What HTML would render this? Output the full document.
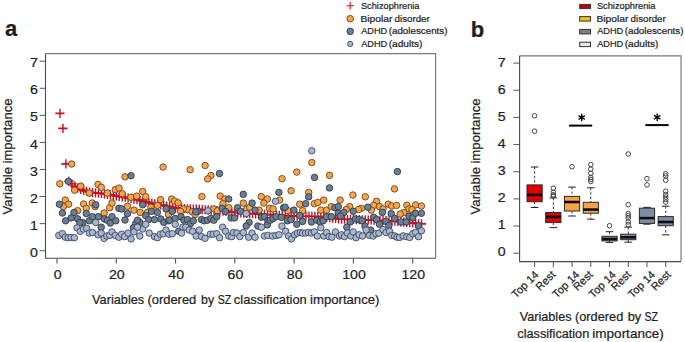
<!DOCTYPE html>
<html><head><meta charset="utf-8"><title>Variable importance figure</title>
<style>
html,body{margin:0;padding:0;background:#fff;}
svg{display:block;}
svg text{font-family:"Liberation Sans", sans-serif;fill:#1e1e1e;stroke:#1e1e1e;stroke-width:0.22px;}
</style></head>
<body>
<svg width="685" height="342" viewBox="0 0 685 342">
<defs><filter id="sf" x="-5%" y="-5%" width="110%" height="110%"><feGaussianBlur stdDeviation="0.35"/></filter></defs>
<rect width="685" height="342" fill="#fff"/>
<path d="M45.5 53.6H435.6V258.2" fill="none" stroke="#7a7a7a" stroke-width="1.15"/>
<path d="M435.6 258.2H45.5V53.6" fill="none" stroke="#4a4a4a" stroke-width="1.1"/>
<line x1="39.7" y1="250.7" x2="45.5" y2="250.7" stroke="#555" stroke-width="1"/>
<text x="37.9" y="256.8" font-size="13.2" text-anchor="end" textLength="7.9" lengthAdjust="spacingAndGlyphs">0</text>
<line x1="39.7" y1="223.63" x2="45.5" y2="223.63" stroke="#555" stroke-width="1"/>
<text x="37.9" y="229.73" font-size="13.2" text-anchor="end" textLength="7.9" lengthAdjust="spacingAndGlyphs">1</text>
<line x1="39.7" y1="196.56" x2="45.5" y2="196.56" stroke="#555" stroke-width="1"/>
<text x="37.9" y="202.66" font-size="13.2" text-anchor="end" textLength="7.9" lengthAdjust="spacingAndGlyphs">2</text>
<line x1="39.7" y1="169.49" x2="45.5" y2="169.49" stroke="#555" stroke-width="1"/>
<text x="37.9" y="175.59" font-size="13.2" text-anchor="end" textLength="7.9" lengthAdjust="spacingAndGlyphs">3</text>
<line x1="39.7" y1="142.42" x2="45.5" y2="142.42" stroke="#555" stroke-width="1"/>
<text x="37.9" y="148.52" font-size="13.2" text-anchor="end" textLength="7.9" lengthAdjust="spacingAndGlyphs">4</text>
<line x1="39.7" y1="115.35" x2="45.5" y2="115.35" stroke="#555" stroke-width="1"/>
<text x="37.9" y="121.45" font-size="13.2" text-anchor="end" textLength="7.9" lengthAdjust="spacingAndGlyphs">5</text>
<line x1="39.7" y1="88.28" x2="45.5" y2="88.28" stroke="#555" stroke-width="1"/>
<text x="37.9" y="94.38" font-size="13.2" text-anchor="end" textLength="7.9" lengthAdjust="spacingAndGlyphs">6</text>
<line x1="39.7" y1="61.21" x2="45.5" y2="61.21" stroke="#555" stroke-width="1"/>
<text x="37.9" y="67.31" font-size="13.2" text-anchor="end" textLength="7.9" lengthAdjust="spacingAndGlyphs">7</text>
<line x1="57" y1="258.2" x2="57" y2="263.6" stroke="#555" stroke-width="1.1"/>
<text x="57.6" y="279.4" font-size="13.2" text-anchor="middle" textLength="7.85" lengthAdjust="spacingAndGlyphs">0</text>
<line x1="116.28" y1="258.2" x2="116.28" y2="263.6" stroke="#555" stroke-width="1.1"/>
<text x="116.88" y="279.4" font-size="13.2" text-anchor="middle" textLength="15.7" lengthAdjust="spacingAndGlyphs">20</text>
<line x1="175.56" y1="258.2" x2="175.56" y2="263.6" stroke="#555" stroke-width="1.1"/>
<text x="176.16" y="279.4" font-size="13.2" text-anchor="middle" textLength="15.7" lengthAdjust="spacingAndGlyphs">40</text>
<line x1="234.84" y1="258.2" x2="234.84" y2="263.6" stroke="#555" stroke-width="1.1"/>
<text x="235.44" y="279.4" font-size="13.2" text-anchor="middle" textLength="15.7" lengthAdjust="spacingAndGlyphs">60</text>
<line x1="294.12" y1="258.2" x2="294.12" y2="263.6" stroke="#555" stroke-width="1.1"/>
<text x="294.72" y="279.4" font-size="13.2" text-anchor="middle" textLength="15.7" lengthAdjust="spacingAndGlyphs">80</text>
<line x1="353.4" y1="258.2" x2="353.4" y2="263.6" stroke="#555" stroke-width="1.1"/>
<text x="354" y="279.4" font-size="13.2" text-anchor="middle" textLength="23.55" lengthAdjust="spacingAndGlyphs">100</text>
<line x1="412.68" y1="258.2" x2="412.68" y2="263.6" stroke="#555" stroke-width="1.1"/>
<text x="413.28" y="279.4" font-size="13.2" text-anchor="middle" textLength="23.55" lengthAdjust="spacingAndGlyphs">120</text>
<g filter="url(#sf)">
<path d="M59.96 108.7v9.2M62.93 123.8v9.2M65.89 159.2v9.2M68.86 176.8v9.2M71.82 179.28v9.2M74.78 181.48v9.2M77.75 183.38v9.2M80.71 184.91v9.2M83.68 185.92v9.2M86.64 186.8v9.2M89.6 187.62v9.2M92.57 188.1v9.2M95.53 188.3v9.2M98.5 188.5v9.2M101.46 188.83v9.2M104.42 189.31v9.2M107.39 189.78v9.2M110.35 190.26v9.2M113.32 190.73v9.2M116.28 191.2v9.2M119.24 191.72v9.2M122.21 192.28v9.2M125.17 192.83v9.2M128.14 193.38v9.2M131.1 193.93v9.2M134.06 194.48v9.2M137.03 195.03v9.2M139.99 195.66v9.2M142.96 196.45v9.2M145.92 197.25v9.2M148.88 198.04v9.2M151.85 198.75v9.2M154.81 199.27v9.2M157.78 199.8v9.2M160.74 200.32v9.2M163.7 200.85v9.2M166.67 201.45v9.2M169.63 202.07v9.2M172.6 202.69v9.2M175.56 203.3v9.2M178.52 203.68v9.2M181.49 203.84v9.2M184.45 203.99v9.2M187.42 204.15v9.2M190.38 204.3v9.2M193.34 204.46v9.2M196.31 204.62v9.2M199.27 204.79v9.2M202.24 204.96v9.2M205.2 205.13v9.2M208.16 205.3v9.2M211.13 205.48v9.2M214.09 205.65v9.2M217.06 205.93v9.2M220.02 206.26v9.2M222.98 206.59v9.2M225.95 206.92v9.2M228.91 207.25v9.2M231.88 207.59v9.2M234.84 207.82v9.2M237.8 208.05v9.2M240.77 208.28v9.2M243.73 208.51v9.2M246.7 208.74v9.2M249.66 208.97v9.2M252.62 209.15v9.2M255.59 209.32v9.2M258.55 209.48v9.2M261.52 209.65v9.2M264.48 209.82v9.2M267.44 209.98v9.2M270.41 210.15v9.2M273.37 210.32v9.2M276.34 210.49v9.2M279.3 210.65v9.2M282.26 210.82v9.2M285.23 210.99v9.2M288.19 211.15v9.2M291.16 211.25v9.2M294.12 211.33v9.2M297.08 211.4v9.2M300.05 211.48v9.2M303.01 211.55v9.2M305.98 211.62v9.2M308.94 211.7v9.2M311.9 211.77v9.2M314.87 211.85v9.2M317.83 211.92v9.2M320.8 211.99v9.2M323.76 212.35v9.2M326.72 212.72v9.2M329.69 213.1v9.2M332.65 213.47v9.2M335.62 213.85v9.2M338.58 214.22v9.2M341.54 214.46v9.2M344.51 214.56v9.2M347.47 214.67v9.2M350.44 214.78v9.2M353.4 214.88v9.2M356.36 214.99v9.2M359.33 215.1v9.2M362.29 215.2v9.2M365.26 215.31v9.2M368.22 215.41v9.2M371.18 215.51v9.2M374.15 215.62v9.2M377.11 215.72v9.2M380.08 215.82v9.2M383.04 215.92v9.2M386 216.03v9.2M388.97 216.13v9.2M391.93 216.3v9.2M394.9 216.6v9.2M397.86 216.9v9.2M400.82 217.2v9.2M403.79 217.5v9.2M406.75 217.81v9.2M409.72 218.11v9.2M412.68 218.41v9.2M415.64 218.71v9.2M418.61 219.02v9.2M421.57 219.3v9.2" stroke="#ac1830" stroke-width="1.4" fill="none"/>
<path d="M55.36 113.3h9.2M58.33 128.4h9.2M61.29 163.8h9.2M64.26 181.4h9.2M67.22 183.88h9.2M70.18 186.08h9.2M73.15 187.98h9.2M76.11 189.51h9.2M79.08 190.52h9.2M82.04 191.4h9.2M85 192.22h9.2M87.97 192.7h9.2M90.93 192.9h9.2M93.9 193.1h9.2M96.86 193.43h9.2M99.82 193.91h9.2M102.79 194.38h9.2M105.75 194.86h9.2M108.72 195.33h9.2M111.68 195.8h9.2M114.64 196.32h9.2M117.61 196.88h9.2M120.57 197.43h9.2M123.54 197.98h9.2M126.5 198.53h9.2M129.46 199.08h9.2M132.43 199.63h9.2M135.39 200.26h9.2M138.36 201.05h9.2M141.32 201.85h9.2M144.28 202.64h9.2M147.25 203.35h9.2M150.21 203.87h9.2M153.18 204.4h9.2M156.14 204.92h9.2M159.1 205.45h9.2M162.07 206.05h9.2M165.03 206.67h9.2M168 207.29h9.2M170.96 207.9h9.2M173.92 208.28h9.2M176.89 208.44h9.2M179.85 208.59h9.2M182.82 208.75h9.2M185.78 208.9h9.2M188.74 209.06h9.2M191.71 209.22h9.2M194.67 209.39h9.2M197.64 209.56h9.2M200.6 209.73h9.2M203.56 209.9h9.2M206.53 210.08h9.2M209.49 210.25h9.2M212.46 210.53h9.2M215.42 210.86h9.2M218.38 211.19h9.2M221.35 211.52h9.2M224.31 211.85h9.2M227.28 212.19h9.2M230.24 212.42h9.2M233.2 212.65h9.2M236.17 212.88h9.2M239.13 213.11h9.2M242.1 213.34h9.2M245.06 213.57h9.2M248.02 213.75h9.2M250.99 213.92h9.2M253.95 214.08h9.2M256.92 214.25h9.2M259.88 214.42h9.2M262.84 214.58h9.2M265.81 214.75h9.2M268.77 214.92h9.2M271.74 215.09h9.2M274.7 215.25h9.2M277.66 215.42h9.2M280.63 215.59h9.2M283.59 215.75h9.2M286.56 215.85h9.2M289.52 215.93h9.2M292.48 216h9.2M295.45 216.08h9.2M298.41 216.15h9.2M301.38 216.22h9.2M304.34 216.3h9.2M307.3 216.37h9.2M310.27 216.45h9.2M313.23 216.52h9.2M316.2 216.59h9.2M319.16 216.95h9.2M322.12 217.32h9.2M325.09 217.7h9.2M328.05 218.07h9.2M331.02 218.45h9.2M333.98 218.82h9.2M336.94 219.06h9.2M339.91 219.16h9.2M342.87 219.27h9.2M345.84 219.38h9.2M348.8 219.48h9.2M351.76 219.59h9.2M354.73 219.7h9.2M357.69 219.8h9.2M360.66 219.91h9.2M363.62 220.01h9.2M366.58 220.11h9.2M369.55 220.22h9.2M372.51 220.32h9.2M375.48 220.42h9.2M378.44 220.52h9.2M381.4 220.63h9.2M384.37 220.73h9.2M387.33 220.9h9.2M390.3 221.2h9.2M393.26 221.5h9.2M396.22 221.8h9.2M399.19 222.1h9.2M402.15 222.41h9.2M405.12 222.71h9.2M408.08 223.01h9.2M411.04 223.31h9.2M414.01 223.62h9.2M416.97 223.9h9.2" stroke="#d4101e" stroke-width="1.8" fill="none"/>
<circle cx="59.8" cy="183.8" r="3.25" fill="#f7a44f" stroke="#6e4518" stroke-width="0.9"/><circle cx="74.6" cy="190.2" r="3.25" fill="#f7a44f" stroke="#6e4518" stroke-width="0.9"/><circle cx="80.7" cy="186.1" r="3.25" fill="#f7a44f" stroke="#6e4518" stroke-width="0.9"/><circle cx="98" cy="184.4" r="3.25" fill="#f7a44f" stroke="#6e4518" stroke-width="0.9"/><circle cx="101.3" cy="187.3" r="3.25" fill="#f7a44f" stroke="#6e4518" stroke-width="0.9"/><circle cx="89.3" cy="193.1" r="3.25" fill="#f7a44f" stroke="#6e4518" stroke-width="0.9"/><circle cx="107.4" cy="193.1" r="3.25" fill="#f7a44f" stroke="#6e4518" stroke-width="0.9"/><circle cx="65.3" cy="200.1" r="3.25" fill="#f7a44f" stroke="#6e4518" stroke-width="0.9"/><circle cx="68.6" cy="204.2" r="3.25" fill="#f7a44f" stroke="#6e4518" stroke-width="0.9"/><circle cx="63.3" cy="206.6" r="3.25" fill="#f7a44f" stroke="#6e4518" stroke-width="0.9"/><circle cx="83.6" cy="204" r="3.25" fill="#f7a44f" stroke="#6e4518" stroke-width="0.9"/><circle cx="86.3" cy="208.3" r="3.25" fill="#f7a44f" stroke="#6e4518" stroke-width="0.9"/><circle cx="92.2" cy="203" r="3.25" fill="#f7a44f" stroke="#6e4518" stroke-width="0.9"/><circle cx="95.1" cy="206.6" r="3.25" fill="#f7a44f" stroke="#6e4518" stroke-width="0.9"/><circle cx="109.7" cy="207.7" r="3.25" fill="#f7a44f" stroke="#6e4518" stroke-width="0.9"/><circle cx="112" cy="203" r="3.25" fill="#f7a44f" stroke="#6e4518" stroke-width="0.9"/><circle cx="77.6" cy="210.7" r="3.25" fill="#f7a44f" stroke="#6e4518" stroke-width="0.9"/><circle cx="104.2" cy="213" r="3.25" fill="#f7a44f" stroke="#6e4518" stroke-width="0.9"/><circle cx="71.6" cy="164" r="3.25" fill="#f7a44f" stroke="#6e4518" stroke-width="0.9"/><circle cx="163.1" cy="167.1" r="3.25" fill="#f7a44f" stroke="#6e4518" stroke-width="0.9"/><circle cx="190.1" cy="169.7" r="3.25" fill="#f7a44f" stroke="#6e4518" stroke-width="0.9"/><circle cx="205.1" cy="165.5" r="3.25" fill="#f7a44f" stroke="#6e4518" stroke-width="0.9"/><circle cx="210.9" cy="175.5" r="3.25" fill="#f7a44f" stroke="#6e4518" stroke-width="0.9"/><circle cx="207.7" cy="178.9" r="3.25" fill="#f7a44f" stroke="#6e4518" stroke-width="0.9"/><circle cx="125" cy="176.8" r="3.25" fill="#f7a44f" stroke="#6e4518" stroke-width="0.9"/><circle cx="311.8" cy="162.6" r="3.25" fill="#f7a44f" stroke="#6e4518" stroke-width="0.9"/><circle cx="296.8" cy="172.1" r="3.25" fill="#f7a44f" stroke="#6e4518" stroke-width="0.9"/><circle cx="282.1" cy="178.7" r="3.25" fill="#f7a44f" stroke="#6e4518" stroke-width="0.9"/><circle cx="329.5" cy="175.3" r="3.25" fill="#f7a44f" stroke="#6e4518" stroke-width="0.9"/><circle cx="394.5" cy="188.9" r="3.25" fill="#f7a44f" stroke="#6e4518" stroke-width="0.9"/><circle cx="291.1" cy="190.8" r="3.25" fill="#f7a44f" stroke="#6e4518" stroke-width="0.9"/><circle cx="308.7" cy="192.4" r="3.25" fill="#f7a44f" stroke="#6e4518" stroke-width="0.9"/><circle cx="352.9" cy="195" r="3.25" fill="#f7a44f" stroke="#6e4518" stroke-width="0.9"/><circle cx="365.3" cy="196.8" r="3.25" fill="#f7a44f" stroke="#6e4518" stroke-width="0.9"/><circle cx="115.3" cy="189.6" r="3.25" fill="#f7a44f" stroke="#6e4518" stroke-width="0.9"/><circle cx="119.1" cy="188.1" r="3.25" fill="#f7a44f" stroke="#6e4518" stroke-width="0.9"/><circle cx="122.3" cy="193.7" r="3.25" fill="#f7a44f" stroke="#6e4518" stroke-width="0.9"/><circle cx="130.8" cy="197.2" r="3.25" fill="#f7a44f" stroke="#6e4518" stroke-width="0.9"/><circle cx="136.7" cy="196.1" r="3.25" fill="#f7a44f" stroke="#6e4518" stroke-width="0.9"/><circle cx="142.7" cy="191.4" r="3.25" fill="#f7a44f" stroke="#6e4518" stroke-width="0.9"/><circle cx="145.7" cy="196.6" r="3.25" fill="#f7a44f" stroke="#6e4518" stroke-width="0.9"/><circle cx="127.5" cy="206.3" r="3.25" fill="#f7a44f" stroke="#6e4518" stroke-width="0.9"/><circle cx="134" cy="210.1" r="3.25" fill="#f7a44f" stroke="#6e4518" stroke-width="0.9"/><circle cx="140.2" cy="212.4" r="3.25" fill="#f7a44f" stroke="#6e4518" stroke-width="0.9"/><circle cx="160.5" cy="199.6" r="3.25" fill="#f7a44f" stroke="#6e4518" stroke-width="0.9"/><circle cx="157.4" cy="205.4" r="3.25" fill="#f7a44f" stroke="#6e4518" stroke-width="0.9"/><circle cx="150.9" cy="207.2" r="3.25" fill="#f7a44f" stroke="#6e4518" stroke-width="0.9"/><circle cx="147.4" cy="212.4" r="3.25" fill="#f7a44f" stroke="#6e4518" stroke-width="0.9"/><circle cx="168.5" cy="214.4" r="3.25" fill="#f7a44f" stroke="#6e4518" stroke-width="0.9"/><circle cx="171.7" cy="199" r="3.25" fill="#f7a44f" stroke="#6e4518" stroke-width="0.9"/><circle cx="174.6" cy="201" r="3.25" fill="#f7a44f" stroke="#6e4518" stroke-width="0.9"/><circle cx="178.1" cy="202.8" r="3.25" fill="#f7a44f" stroke="#6e4518" stroke-width="0.9"/><circle cx="201.9" cy="196.6" r="3.25" fill="#f7a44f" stroke="#6e4518" stroke-width="0.9"/><circle cx="220.2" cy="196.1" r="3.25" fill="#f7a44f" stroke="#6e4518" stroke-width="0.9"/><circle cx="224.9" cy="199" r="3.25" fill="#f7a44f" stroke="#6e4518" stroke-width="0.9"/><circle cx="222.9" cy="203.7" r="3.25" fill="#f7a44f" stroke="#6e4518" stroke-width="0.9"/><circle cx="187.5" cy="209.5" r="3.25" fill="#f7a44f" stroke="#6e4518" stroke-width="0.9"/><circle cx="183.4" cy="208.9" r="3.25" fill="#f7a44f" stroke="#6e4518" stroke-width="0.9"/><circle cx="180.5" cy="211.3" r="3.25" fill="#f7a44f" stroke="#6e4518" stroke-width="0.9"/><circle cx="192.1" cy="211.8" r="3.25" fill="#f7a44f" stroke="#6e4518" stroke-width="0.9"/><circle cx="213.8" cy="208.9" r="3.25" fill="#f7a44f" stroke="#6e4518" stroke-width="0.9"/><circle cx="217.3" cy="210.7" r="3.25" fill="#f7a44f" stroke="#6e4518" stroke-width="0.9"/><circle cx="195.1" cy="214.4" r="3.25" fill="#f7a44f" stroke="#6e4518" stroke-width="0.9"/><circle cx="243.3" cy="203.1" r="3.25" fill="#f7a44f" stroke="#6e4518" stroke-width="0.9"/><circle cx="261.2" cy="196.6" r="3.25" fill="#f7a44f" stroke="#6e4518" stroke-width="0.9"/><circle cx="267.3" cy="199" r="3.25" fill="#f7a44f" stroke="#6e4518" stroke-width="0.9"/><circle cx="263.8" cy="203.1" r="3.25" fill="#f7a44f" stroke="#6e4518" stroke-width="0.9"/><circle cx="279.6" cy="200.1" r="3.25" fill="#f7a44f" stroke="#6e4518" stroke-width="0.9"/><circle cx="228.7" cy="207.7" r="3.25" fill="#f7a44f" stroke="#6e4518" stroke-width="0.9"/><circle cx="246.8" cy="208.9" r="3.25" fill="#f7a44f" stroke="#6e4518" stroke-width="0.9"/><circle cx="249.7" cy="207.2" r="3.25" fill="#f7a44f" stroke="#6e4518" stroke-width="0.9"/><circle cx="259.1" cy="210.1" r="3.25" fill="#f7a44f" stroke="#6e4518" stroke-width="0.9"/><circle cx="269.6" cy="208.3" r="3.25" fill="#f7a44f" stroke="#6e4518" stroke-width="0.9"/><circle cx="273.1" cy="208.9" r="3.25" fill="#f7a44f" stroke="#6e4518" stroke-width="0.9"/><circle cx="299.7" cy="204.2" r="3.25" fill="#f7a44f" stroke="#6e4518" stroke-width="0.9"/><circle cx="314.3" cy="203.7" r="3.25" fill="#f7a44f" stroke="#6e4518" stroke-width="0.9"/><circle cx="317.8" cy="202.5" r="3.25" fill="#f7a44f" stroke="#6e4518" stroke-width="0.9"/><circle cx="323.7" cy="200.1" r="3.25" fill="#f7a44f" stroke="#6e4518" stroke-width="0.9"/><circle cx="340.1" cy="200.1" r="3.25" fill="#f7a44f" stroke="#6e4518" stroke-width="0.9"/><circle cx="288" cy="210.7" r="3.25" fill="#f7a44f" stroke="#6e4518" stroke-width="0.9"/><circle cx="302.6" cy="210.7" r="3.25" fill="#f7a44f" stroke="#6e4518" stroke-width="0.9"/><circle cx="320.8" cy="210.1" r="3.25" fill="#f7a44f" stroke="#6e4518" stroke-width="0.9"/><circle cx="326.6" cy="210.1" r="3.25" fill="#f7a44f" stroke="#6e4518" stroke-width="0.9"/><circle cx="331.3" cy="206.6" r="3.25" fill="#f7a44f" stroke="#6e4518" stroke-width="0.9"/><circle cx="376.6" cy="201.3" r="3.25" fill="#f7a44f" stroke="#6e4518" stroke-width="0.9"/><circle cx="349.7" cy="206.6" r="3.25" fill="#f7a44f" stroke="#6e4518" stroke-width="0.9"/><circle cx="346.2" cy="209.5" r="3.25" fill="#f7a44f" stroke="#6e4518" stroke-width="0.9"/><circle cx="361.4" cy="208.3" r="3.25" fill="#f7a44f" stroke="#6e4518" stroke-width="0.9"/><circle cx="358.5" cy="209.5" r="3.25" fill="#f7a44f" stroke="#6e4518" stroke-width="0.9"/><circle cx="373.7" cy="205.4" r="3.25" fill="#f7a44f" stroke="#6e4518" stroke-width="0.9"/><circle cx="379.5" cy="206.6" r="3.25" fill="#f7a44f" stroke="#6e4518" stroke-width="0.9"/><circle cx="383" cy="208.9" r="3.25" fill="#f7a44f" stroke="#6e4518" stroke-width="0.9"/><circle cx="388.3" cy="204.2" r="3.25" fill="#f7a44f" stroke="#6e4518" stroke-width="0.9"/><circle cx="391.8" cy="206" r="3.25" fill="#f7a44f" stroke="#6e4518" stroke-width="0.9"/><circle cx="396.5" cy="205.4" r="3.25" fill="#f7a44f" stroke="#6e4518" stroke-width="0.9"/><circle cx="371.3" cy="210.1" r="3.25" fill="#f7a44f" stroke="#6e4518" stroke-width="0.9"/><circle cx="406.8" cy="205.2" r="3.25" fill="#f7a44f" stroke="#6e4518" stroke-width="0.9"/><circle cx="415.6" cy="204.9" r="3.25" fill="#f7a44f" stroke="#6e4518" stroke-width="0.9"/><circle cx="421.4" cy="206" r="3.25" fill="#f7a44f" stroke="#6e4518" stroke-width="0.9"/><circle cx="409" cy="208.9" r="3.25" fill="#f7a44f" stroke="#6e4518" stroke-width="0.9"/><circle cx="411.9" cy="209.6" r="3.25" fill="#f7a44f" stroke="#6e4518" stroke-width="0.9"/><circle cx="403.9" cy="212.5" r="3.25" fill="#f7a44f" stroke="#6e4518" stroke-width="0.9"/><circle cx="400.2" cy="214" r="3.25" fill="#f7a44f" stroke="#6e4518" stroke-width="0.9"/><circle cx="68.4" cy="181.3" r="3.25" fill="#6d7d94" stroke="#313a46" stroke-width="0.9"/><circle cx="59.4" cy="204.2" r="3.25" fill="#6d7d94" stroke="#313a46" stroke-width="0.9"/><circle cx="95.7" cy="204.8" r="3.25" fill="#6d7d94" stroke="#313a46" stroke-width="0.9"/><circle cx="62.4" cy="213" r="3.25" fill="#6d7d94" stroke="#313a46" stroke-width="0.9"/><circle cx="74" cy="212.4" r="3.25" fill="#6d7d94" stroke="#313a46" stroke-width="0.9"/><circle cx="86.3" cy="213.6" r="3.25" fill="#6d7d94" stroke="#313a46" stroke-width="0.9"/><circle cx="65.6" cy="220.8" r="3.25" fill="#6d7d94" stroke="#313a46" stroke-width="0.9"/><circle cx="71.1" cy="217.9" r="3.25" fill="#6d7d94" stroke="#313a46" stroke-width="0.9"/><circle cx="77.6" cy="218.8" r="3.25" fill="#6d7d94" stroke="#313a46" stroke-width="0.9"/><circle cx="82.8" cy="222.5" r="3.25" fill="#6d7d94" stroke="#313a46" stroke-width="0.9"/><circle cx="89.3" cy="220.8" r="3.25" fill="#6d7d94" stroke="#313a46" stroke-width="0.9"/><circle cx="92.5" cy="216.7" r="3.25" fill="#6d7d94" stroke="#313a46" stroke-width="0.9"/><circle cx="98.4" cy="216.7" r="3.25" fill="#6d7d94" stroke="#313a46" stroke-width="0.9"/><circle cx="101.2" cy="227.2" r="3.25" fill="#6d7d94" stroke="#313a46" stroke-width="0.9"/><circle cx="104.5" cy="219" r="3.25" fill="#6d7d94" stroke="#313a46" stroke-width="0.9"/><circle cx="107.4" cy="220.2" r="3.25" fill="#6d7d94" stroke="#313a46" stroke-width="0.9"/><circle cx="110.3" cy="223.1" r="3.25" fill="#6d7d94" stroke="#313a46" stroke-width="0.9"/><circle cx="112" cy="216.7" r="3.25" fill="#6d7d94" stroke="#313a46" stroke-width="0.9"/><circle cx="79.9" cy="222.5" r="3.25" fill="#6d7d94" stroke="#313a46" stroke-width="0.9"/><circle cx="131" cy="175.7" r="3.25" fill="#6d7d94" stroke="#313a46" stroke-width="0.9"/><circle cx="219.5" cy="173.6" r="3.25" fill="#6d7d94" stroke="#313a46" stroke-width="0.9"/><circle cx="314.5" cy="177.4" r="3.25" fill="#6d7d94" stroke="#313a46" stroke-width="0.9"/><circle cx="329.5" cy="187.9" r="3.25" fill="#6d7d94" stroke="#313a46" stroke-width="0.9"/><circle cx="397.4" cy="171.6" r="3.25" fill="#6d7d94" stroke="#313a46" stroke-width="0.9"/><circle cx="278.9" cy="192.4" r="3.25" fill="#6d7d94" stroke="#313a46" stroke-width="0.9"/><circle cx="308.7" cy="196.8" r="3.25" fill="#6d7d94" stroke="#313a46" stroke-width="0.9"/><circle cx="118.8" cy="208.3" r="3.25" fill="#6d7d94" stroke="#313a46" stroke-width="0.9"/><circle cx="121.7" cy="208.9" r="3.25" fill="#6d7d94" stroke="#313a46" stroke-width="0.9"/><circle cx="142.7" cy="204.8" r="3.25" fill="#6d7d94" stroke="#313a46" stroke-width="0.9"/><circle cx="166.1" cy="208.9" r="3.25" fill="#6d7d94" stroke="#313a46" stroke-width="0.9"/><circle cx="151.5" cy="211.3" r="3.25" fill="#6d7d94" stroke="#313a46" stroke-width="0.9"/><circle cx="157.4" cy="212.4" r="3.25" fill="#6d7d94" stroke="#313a46" stroke-width="0.9"/><circle cx="127.5" cy="213.6" r="3.25" fill="#6d7d94" stroke="#313a46" stroke-width="0.9"/><circle cx="115.8" cy="220.8" r="3.25" fill="#6d7d94" stroke="#313a46" stroke-width="0.9"/><circle cx="125" cy="220" r="3.25" fill="#6d7d94" stroke="#313a46" stroke-width="0.9"/><circle cx="135.7" cy="223.7" r="3.25" fill="#6d7d94" stroke="#313a46" stroke-width="0.9"/><circle cx="139.8" cy="222.5" r="3.25" fill="#6d7d94" stroke="#313a46" stroke-width="0.9"/><circle cx="133.4" cy="227.8" r="3.25" fill="#6d7d94" stroke="#313a46" stroke-width="0.9"/><circle cx="145.7" cy="215.5" r="3.25" fill="#6d7d94" stroke="#313a46" stroke-width="0.9"/><circle cx="148.6" cy="219.6" r="3.25" fill="#6d7d94" stroke="#313a46" stroke-width="0.9"/><circle cx="154.4" cy="219.6" r="3.25" fill="#6d7d94" stroke="#313a46" stroke-width="0.9"/><circle cx="160.9" cy="219" r="3.25" fill="#6d7d94" stroke="#313a46" stroke-width="0.9"/><circle cx="163.8" cy="222.5" r="3.25" fill="#6d7d94" stroke="#313a46" stroke-width="0.9"/><circle cx="168.5" cy="220.8" r="3.25" fill="#6d7d94" stroke="#313a46" stroke-width="0.9"/><circle cx="137.5" cy="220.2" r="3.25" fill="#6d7d94" stroke="#313a46" stroke-width="0.9"/><circle cx="172.3" cy="211.3" r="3.25" fill="#6d7d94" stroke="#313a46" stroke-width="0.9"/><circle cx="198" cy="211.3" r="3.25" fill="#6d7d94" stroke="#313a46" stroke-width="0.9"/><circle cx="222" cy="208.3" r="3.25" fill="#6d7d94" stroke="#313a46" stroke-width="0.9"/><circle cx="195.7" cy="211.8" r="3.25" fill="#6d7d94" stroke="#313a46" stroke-width="0.9"/><circle cx="169.3" cy="220.2" r="3.25" fill="#6d7d94" stroke="#313a46" stroke-width="0.9"/><circle cx="175.2" cy="218.5" r="3.25" fill="#6d7d94" stroke="#313a46" stroke-width="0.9"/><circle cx="181" cy="216.7" r="3.25" fill="#6d7d94" stroke="#313a46" stroke-width="0.9"/><circle cx="184" cy="220.2" r="3.25" fill="#6d7d94" stroke="#313a46" stroke-width="0.9"/><circle cx="187.5" cy="219.6" r="3.25" fill="#6d7d94" stroke="#313a46" stroke-width="0.9"/><circle cx="190.4" cy="223.7" r="3.25" fill="#6d7d94" stroke="#313a46" stroke-width="0.9"/><circle cx="193.3" cy="220.8" r="3.25" fill="#6d7d94" stroke="#313a46" stroke-width="0.9"/><circle cx="201.5" cy="219.6" r="3.25" fill="#6d7d94" stroke="#313a46" stroke-width="0.9"/><circle cx="204.4" cy="220.8" r="3.25" fill="#6d7d94" stroke="#313a46" stroke-width="0.9"/><circle cx="207.4" cy="220.2" r="3.25" fill="#6d7d94" stroke="#313a46" stroke-width="0.9"/><circle cx="210.9" cy="218.5" r="3.25" fill="#6d7d94" stroke="#313a46" stroke-width="0.9"/><circle cx="213.8" cy="220.2" r="3.25" fill="#6d7d94" stroke="#313a46" stroke-width="0.9"/><circle cx="216.7" cy="216.7" r="3.25" fill="#6d7d94" stroke="#313a46" stroke-width="0.9"/><circle cx="225.5" cy="211.4" r="3.25" fill="#6d7d94" stroke="#313a46" stroke-width="0.9"/><circle cx="178.7" cy="231.3" r="3.25" fill="#6d7d94" stroke="#313a46" stroke-width="0.9"/><circle cx="228.7" cy="199" r="3.25" fill="#6d7d94" stroke="#313a46" stroke-width="0.9"/><circle cx="243.3" cy="194.3" r="3.25" fill="#6d7d94" stroke="#313a46" stroke-width="0.9"/><circle cx="252.1" cy="203.1" r="3.25" fill="#6d7d94" stroke="#313a46" stroke-width="0.9"/><circle cx="237.5" cy="207.7" r="3.25" fill="#6d7d94" stroke="#313a46" stroke-width="0.9"/><circle cx="240.4" cy="211.3" r="3.25" fill="#6d7d94" stroke="#313a46" stroke-width="0.9"/><circle cx="255" cy="210.1" r="3.25" fill="#6d7d94" stroke="#313a46" stroke-width="0.9"/><circle cx="283.6" cy="207.7" r="3.25" fill="#6d7d94" stroke="#313a46" stroke-width="0.9"/><circle cx="231" cy="217.9" r="3.25" fill="#6d7d94" stroke="#313a46" stroke-width="0.9"/><circle cx="234.5" cy="217.9" r="3.25" fill="#6d7d94" stroke="#313a46" stroke-width="0.9"/><circle cx="249.1" cy="222.5" r="3.25" fill="#6d7d94" stroke="#313a46" stroke-width="0.9"/><circle cx="246.2" cy="226.1" r="3.25" fill="#6d7d94" stroke="#313a46" stroke-width="0.9"/><circle cx="257.9" cy="226.1" r="3.25" fill="#6d7d94" stroke="#313a46" stroke-width="0.9"/><circle cx="261.4" cy="217.3" r="3.25" fill="#6d7d94" stroke="#313a46" stroke-width="0.9"/><circle cx="264.4" cy="216.7" r="3.25" fill="#6d7d94" stroke="#313a46" stroke-width="0.9"/><circle cx="267.9" cy="220.8" r="3.25" fill="#6d7d94" stroke="#313a46" stroke-width="0.9"/><circle cx="267.3" cy="224.9" r="3.25" fill="#6d7d94" stroke="#313a46" stroke-width="0.9"/><circle cx="270.2" cy="220.2" r="3.25" fill="#6d7d94" stroke="#313a46" stroke-width="0.9"/><circle cx="273.1" cy="218.5" r="3.25" fill="#6d7d94" stroke="#313a46" stroke-width="0.9"/><circle cx="276" cy="216.7" r="3.25" fill="#6d7d94" stroke="#313a46" stroke-width="0.9"/><circle cx="281.3" cy="217.3" r="3.25" fill="#6d7d94" stroke="#313a46" stroke-width="0.9"/><circle cx="285.1" cy="207.2" r="3.25" fill="#6d7d94" stroke="#313a46" stroke-width="0.9"/><circle cx="305.6" cy="203.7" r="3.25" fill="#6d7d94" stroke="#313a46" stroke-width="0.9"/><circle cx="293.9" cy="210.1" r="3.25" fill="#6d7d94" stroke="#313a46" stroke-width="0.9"/><circle cx="334.8" cy="207.7" r="3.25" fill="#6d7d94" stroke="#313a46" stroke-width="0.9"/><circle cx="338.3" cy="206.6" r="3.25" fill="#6d7d94" stroke="#313a46" stroke-width="0.9"/><circle cx="287.4" cy="220.8" r="3.25" fill="#6d7d94" stroke="#313a46" stroke-width="0.9"/><circle cx="290.9" cy="219.6" r="3.25" fill="#6d7d94" stroke="#313a46" stroke-width="0.9"/><circle cx="296.8" cy="224.3" r="3.25" fill="#6d7d94" stroke="#313a46" stroke-width="0.9"/><circle cx="299.7" cy="215.5" r="3.25" fill="#6d7d94" stroke="#313a46" stroke-width="0.9"/><circle cx="302.6" cy="221.4" r="3.25" fill="#6d7d94" stroke="#313a46" stroke-width="0.9"/><circle cx="311.4" cy="222" r="3.25" fill="#6d7d94" stroke="#313a46" stroke-width="0.9"/><circle cx="316.7" cy="220.2" r="3.25" fill="#6d7d94" stroke="#313a46" stroke-width="0.9"/><circle cx="320.2" cy="222" r="3.25" fill="#6d7d94" stroke="#313a46" stroke-width="0.9"/><circle cx="323.1" cy="220.8" r="3.25" fill="#6d7d94" stroke="#313a46" stroke-width="0.9"/><circle cx="326.6" cy="216.7" r="3.25" fill="#6d7d94" stroke="#313a46" stroke-width="0.9"/><circle cx="331.3" cy="216.7" r="3.25" fill="#6d7d94" stroke="#313a46" stroke-width="0.9"/><circle cx="338.3" cy="213.2" r="3.25" fill="#6d7d94" stroke="#313a46" stroke-width="0.9"/><circle cx="367.8" cy="207.2" r="3.25" fill="#6d7d94" stroke="#313a46" stroke-width="0.9"/><circle cx="353.2" cy="211.3" r="3.25" fill="#6d7d94" stroke="#313a46" stroke-width="0.9"/><circle cx="343.8" cy="212.4" r="3.25" fill="#6d7d94" stroke="#313a46" stroke-width="0.9"/><circle cx="382.4" cy="212.4" r="3.25" fill="#6d7d94" stroke="#313a46" stroke-width="0.9"/><circle cx="391.2" cy="213.6" r="3.25" fill="#6d7d94" stroke="#313a46" stroke-width="0.9"/><circle cx="350.3" cy="222" r="3.25" fill="#6d7d94" stroke="#313a46" stroke-width="0.9"/><circle cx="346.8" cy="227.2" r="3.25" fill="#6d7d94" stroke="#313a46" stroke-width="0.9"/><circle cx="355.5" cy="219" r="3.25" fill="#6d7d94" stroke="#313a46" stroke-width="0.9"/><circle cx="359.1" cy="219.6" r="3.25" fill="#6d7d94" stroke="#313a46" stroke-width="0.9"/><circle cx="362" cy="220.8" r="3.25" fill="#6d7d94" stroke="#313a46" stroke-width="0.9"/><circle cx="364.9" cy="226.1" r="3.25" fill="#6d7d94" stroke="#313a46" stroke-width="0.9"/><circle cx="370.7" cy="230.1" r="3.25" fill="#6d7d94" stroke="#313a46" stroke-width="0.9"/><circle cx="373.7" cy="217.3" r="3.25" fill="#6d7d94" stroke="#313a46" stroke-width="0.9"/><circle cx="376.6" cy="219.6" r="3.25" fill="#6d7d94" stroke="#313a46" stroke-width="0.9"/><circle cx="379.5" cy="224.3" r="3.25" fill="#6d7d94" stroke="#313a46" stroke-width="0.9"/><circle cx="386" cy="221.4" r="3.25" fill="#6d7d94" stroke="#313a46" stroke-width="0.9"/><circle cx="388.9" cy="225.5" r="3.25" fill="#6d7d94" stroke="#313a46" stroke-width="0.9"/><circle cx="394.7" cy="218.5" r="3.25" fill="#6d7d94" stroke="#313a46" stroke-width="0.9"/><circle cx="340.3" cy="216.1" r="3.25" fill="#6d7d94" stroke="#313a46" stroke-width="0.9"/><circle cx="401" cy="222" r="3.25" fill="#6d7d94" stroke="#313a46" stroke-width="0.9"/><circle cx="406.1" cy="222" r="3.25" fill="#6d7d94" stroke="#313a46" stroke-width="0.9"/><circle cx="409" cy="216.2" r="3.25" fill="#6d7d94" stroke="#313a46" stroke-width="0.9"/><circle cx="412.7" cy="217.7" r="3.25" fill="#6d7d94" stroke="#313a46" stroke-width="0.9"/><circle cx="415.6" cy="213.3" r="3.25" fill="#6d7d94" stroke="#313a46" stroke-width="0.9"/><circle cx="421.4" cy="213.3" r="3.25" fill="#6d7d94" stroke="#313a46" stroke-width="0.9"/><circle cx="418.5" cy="225.7" r="3.25" fill="#6d7d94" stroke="#313a46" stroke-width="0.9"/><circle cx="311.8" cy="150.8" r="3.25" fill="#a8b8d4" stroke="#3d4759" stroke-width="0.9"/><circle cx="58.8" cy="235.4" r="3.25" fill="#a8b8d4" stroke="#3d4759" stroke-width="0.9"/><circle cx="62.4" cy="233.7" r="3.25" fill="#a8b8d4" stroke="#3d4759" stroke-width="0.9"/><circle cx="65.3" cy="237.2" r="3.25" fill="#a8b8d4" stroke="#3d4759" stroke-width="0.9"/><circle cx="68.2" cy="237.7" r="3.25" fill="#a8b8d4" stroke="#3d4759" stroke-width="0.9"/><circle cx="71.1" cy="237.5" r="3.25" fill="#a8b8d4" stroke="#3d4759" stroke-width="0.9"/><circle cx="74.4" cy="237.7" r="3.25" fill="#a8b8d4" stroke="#3d4759" stroke-width="0.9"/><circle cx="77" cy="227.8" r="3.25" fill="#a8b8d4" stroke="#3d4759" stroke-width="0.9"/><circle cx="80.1" cy="231.3" r="3.25" fill="#a8b8d4" stroke="#3d4759" stroke-width="0.9"/><circle cx="83.4" cy="229" r="3.25" fill="#a8b8d4" stroke="#3d4759" stroke-width="0.9"/><circle cx="86.7" cy="228.4" r="3.25" fill="#a8b8d4" stroke="#3d4759" stroke-width="0.9"/><circle cx="89.3" cy="233.1" r="3.25" fill="#a8b8d4" stroke="#3d4759" stroke-width="0.9"/><circle cx="92.5" cy="232.5" r="3.25" fill="#a8b8d4" stroke="#3d4759" stroke-width="0.9"/><circle cx="95.7" cy="222.5" r="3.25" fill="#a8b8d4" stroke="#3d4759" stroke-width="0.9"/><circle cx="98" cy="234.8" r="3.25" fill="#a8b8d4" stroke="#3d4759" stroke-width="0.9"/><circle cx="101.2" cy="233.1" r="3.25" fill="#a8b8d4" stroke="#3d4759" stroke-width="0.9"/><circle cx="104.1" cy="238.3" r="3.25" fill="#a8b8d4" stroke="#3d4759" stroke-width="0.9"/><circle cx="106.8" cy="236" r="3.25" fill="#a8b8d4" stroke="#3d4759" stroke-width="0.9"/><circle cx="109.7" cy="235.4" r="3.25" fill="#a8b8d4" stroke="#3d4759" stroke-width="0.9"/><circle cx="112" cy="231.9" r="3.25" fill="#a8b8d4" stroke="#3d4759" stroke-width="0.9"/><circle cx="115.3" cy="235.4" r="3.25" fill="#a8b8d4" stroke="#3d4759" stroke-width="0.9"/><circle cx="118.8" cy="237.2" r="3.25" fill="#a8b8d4" stroke="#3d4759" stroke-width="0.9"/><circle cx="121.7" cy="234.2" r="3.25" fill="#a8b8d4" stroke="#3d4759" stroke-width="0.9"/><circle cx="124.6" cy="236.6" r="3.25" fill="#a8b8d4" stroke="#3d4759" stroke-width="0.9"/><circle cx="128.1" cy="233.1" r="3.25" fill="#a8b8d4" stroke="#3d4759" stroke-width="0.9"/><circle cx="131.1" cy="238.9" r="3.25" fill="#a8b8d4" stroke="#3d4759" stroke-width="0.9"/><circle cx="134" cy="231.9" r="3.25" fill="#a8b8d4" stroke="#3d4759" stroke-width="0.9"/><circle cx="139.8" cy="236" r="3.25" fill="#a8b8d4" stroke="#3d4759" stroke-width="0.9"/><circle cx="142.7" cy="229" r="3.25" fill="#a8b8d4" stroke="#3d4759" stroke-width="0.9"/><circle cx="145.7" cy="224.3" r="3.25" fill="#a8b8d4" stroke="#3d4759" stroke-width="0.9"/><circle cx="149.2" cy="233.1" r="3.25" fill="#a8b8d4" stroke="#3d4759" stroke-width="0.9"/><circle cx="154.4" cy="236.6" r="3.25" fill="#a8b8d4" stroke="#3d4759" stroke-width="0.9"/><circle cx="157.4" cy="237.7" r="3.25" fill="#a8b8d4" stroke="#3d4759" stroke-width="0.9"/><circle cx="160.3" cy="234.2" r="3.25" fill="#a8b8d4" stroke="#3d4759" stroke-width="0.9"/><circle cx="163.2" cy="233.7" r="3.25" fill="#a8b8d4" stroke="#3d4759" stroke-width="0.9"/><circle cx="166.1" cy="230.1" r="3.25" fill="#a8b8d4" stroke="#3d4759" stroke-width="0.9"/><circle cx="169" cy="234.2" r="3.25" fill="#a8b8d4" stroke="#3d4759" stroke-width="0.9"/><circle cx="137.5" cy="227.2" r="3.25" fill="#a8b8d4" stroke="#3d4759" stroke-width="0.9"/><circle cx="207.9" cy="210.7" r="3.25" fill="#a8b8d4" stroke="#3d4759" stroke-width="0.9"/><circle cx="175.2" cy="224.3" r="3.25" fill="#a8b8d4" stroke="#3d4759" stroke-width="0.9"/><circle cx="172.3" cy="233.7" r="3.25" fill="#a8b8d4" stroke="#3d4759" stroke-width="0.9"/><circle cx="182.8" cy="227.2" r="3.25" fill="#a8b8d4" stroke="#3d4759" stroke-width="0.9"/><circle cx="185.7" cy="227.2" r="3.25" fill="#a8b8d4" stroke="#3d4759" stroke-width="0.9"/><circle cx="189.2" cy="230.1" r="3.25" fill="#a8b8d4" stroke="#3d4759" stroke-width="0.9"/><circle cx="192.7" cy="231.3" r="3.25" fill="#a8b8d4" stroke="#3d4759" stroke-width="0.9"/><circle cx="196.2" cy="236" r="3.25" fill="#a8b8d4" stroke="#3d4759" stroke-width="0.9"/><circle cx="199.2" cy="230.1" r="3.25" fill="#a8b8d4" stroke="#3d4759" stroke-width="0.9"/><circle cx="201.5" cy="236.6" r="3.25" fill="#a8b8d4" stroke="#3d4759" stroke-width="0.9"/><circle cx="205" cy="238.3" r="3.25" fill="#a8b8d4" stroke="#3d4759" stroke-width="0.9"/><circle cx="210.3" cy="234.2" r="3.25" fill="#a8b8d4" stroke="#3d4759" stroke-width="0.9"/><circle cx="213.2" cy="234.2" r="3.25" fill="#a8b8d4" stroke="#3d4759" stroke-width="0.9"/><circle cx="216.7" cy="233.7" r="3.25" fill="#a8b8d4" stroke="#3d4759" stroke-width="0.9"/><circle cx="219.6" cy="237.7" r="3.25" fill="#a8b8d4" stroke="#3d4759" stroke-width="0.9"/><circle cx="222.6" cy="227.2" r="3.25" fill="#a8b8d4" stroke="#3d4759" stroke-width="0.9"/><circle cx="225.5" cy="231.3" r="3.25" fill="#a8b8d4" stroke="#3d4759" stroke-width="0.9"/><circle cx="181.6" cy="233.1" r="3.25" fill="#a8b8d4" stroke="#3d4759" stroke-width="0.9"/><circle cx="275.5" cy="201.3" r="3.25" fill="#a8b8d4" stroke="#3d4759" stroke-width="0.9"/><circle cx="246.2" cy="213.6" r="3.25" fill="#a8b8d4" stroke="#3d4759" stroke-width="0.9"/><circle cx="228.7" cy="236" r="3.25" fill="#a8b8d4" stroke="#3d4759" stroke-width="0.9"/><circle cx="231.6" cy="236.6" r="3.25" fill="#a8b8d4" stroke="#3d4759" stroke-width="0.9"/><circle cx="233.4" cy="232.5" r="3.25" fill="#a8b8d4" stroke="#3d4759" stroke-width="0.9"/><circle cx="236.9" cy="233.1" r="3.25" fill="#a8b8d4" stroke="#3d4759" stroke-width="0.9"/><circle cx="239.8" cy="236.6" r="3.25" fill="#a8b8d4" stroke="#3d4759" stroke-width="0.9"/><circle cx="243.3" cy="232.5" r="3.25" fill="#a8b8d4" stroke="#3d4759" stroke-width="0.9"/><circle cx="248.6" cy="237.2" r="3.25" fill="#a8b8d4" stroke="#3d4759" stroke-width="0.9"/><circle cx="252.1" cy="233.1" r="3.25" fill="#a8b8d4" stroke="#3d4759" stroke-width="0.9"/><circle cx="255" cy="237.2" r="3.25" fill="#a8b8d4" stroke="#3d4759" stroke-width="0.9"/><circle cx="261.4" cy="227.2" r="3.25" fill="#a8b8d4" stroke="#3d4759" stroke-width="0.9"/><circle cx="264.4" cy="236" r="3.25" fill="#a8b8d4" stroke="#3d4759" stroke-width="0.9"/><circle cx="267.9" cy="235.4" r="3.25" fill="#a8b8d4" stroke="#3d4759" stroke-width="0.9"/><circle cx="272.5" cy="236" r="3.25" fill="#a8b8d4" stroke="#3d4759" stroke-width="0.9"/><circle cx="276" cy="235.4" r="3.25" fill="#a8b8d4" stroke="#3d4759" stroke-width="0.9"/><circle cx="279" cy="234.8" r="3.25" fill="#a8b8d4" stroke="#3d4759" stroke-width="0.9"/><circle cx="281.9" cy="226.1" r="3.25" fill="#a8b8d4" stroke="#3d4759" stroke-width="0.9"/><circle cx="285.7" cy="231.3" r="3.25" fill="#a8b8d4" stroke="#3d4759" stroke-width="0.9"/><circle cx="288.6" cy="236" r="3.25" fill="#a8b8d4" stroke="#3d4759" stroke-width="0.9"/><circle cx="291.5" cy="238.9" r="3.25" fill="#a8b8d4" stroke="#3d4759" stroke-width="0.9"/><circle cx="294.5" cy="234.8" r="3.25" fill="#a8b8d4" stroke="#3d4759" stroke-width="0.9"/><circle cx="297.4" cy="233.1" r="3.25" fill="#a8b8d4" stroke="#3d4759" stroke-width="0.9"/><circle cx="300.3" cy="232.5" r="3.25" fill="#a8b8d4" stroke="#3d4759" stroke-width="0.9"/><circle cx="302.6" cy="233.1" r="3.25" fill="#a8b8d4" stroke="#3d4759" stroke-width="0.9"/><circle cx="305.6" cy="233.1" r="3.25" fill="#a8b8d4" stroke="#3d4759" stroke-width="0.9"/><circle cx="308.5" cy="232.5" r="3.25" fill="#a8b8d4" stroke="#3d4759" stroke-width="0.9"/><circle cx="311.4" cy="233.1" r="3.25" fill="#a8b8d4" stroke="#3d4759" stroke-width="0.9"/><circle cx="314.3" cy="231.9" r="3.25" fill="#a8b8d4" stroke="#3d4759" stroke-width="0.9"/><circle cx="317.3" cy="236" r="3.25" fill="#a8b8d4" stroke="#3d4759" stroke-width="0.9"/><circle cx="320.8" cy="227.8" r="3.25" fill="#a8b8d4" stroke="#3d4759" stroke-width="0.9"/><circle cx="323.7" cy="236" r="3.25" fill="#a8b8d4" stroke="#3d4759" stroke-width="0.9"/><circle cx="326.6" cy="232.5" r="3.25" fill="#a8b8d4" stroke="#3d4759" stroke-width="0.9"/><circle cx="329" cy="236.6" r="3.25" fill="#a8b8d4" stroke="#3d4759" stroke-width="0.9"/><circle cx="331.9" cy="237.2" r="3.25" fill="#a8b8d4" stroke="#3d4759" stroke-width="0.9"/><circle cx="335.4" cy="231.9" r="3.25" fill="#a8b8d4" stroke="#3d4759" stroke-width="0.9"/><circle cx="339.5" cy="236" r="3.25" fill="#a8b8d4" stroke="#3d4759" stroke-width="0.9"/><circle cx="341.5" cy="234.8" r="3.25" fill="#a8b8d4" stroke="#3d4759" stroke-width="0.9"/><circle cx="344.4" cy="236.6" r="3.25" fill="#a8b8d4" stroke="#3d4759" stroke-width="0.9"/><circle cx="347.4" cy="233.1" r="3.25" fill="#a8b8d4" stroke="#3d4759" stroke-width="0.9"/><circle cx="350.9" cy="236" r="3.25" fill="#a8b8d4" stroke="#3d4759" stroke-width="0.9"/><circle cx="353.2" cy="231.9" r="3.25" fill="#a8b8d4" stroke="#3d4759" stroke-width="0.9"/><circle cx="356.1" cy="237.7" r="3.25" fill="#a8b8d4" stroke="#3d4759" stroke-width="0.9"/><circle cx="359.1" cy="234.8" r="3.25" fill="#a8b8d4" stroke="#3d4759" stroke-width="0.9"/><circle cx="362.6" cy="236" r="3.25" fill="#a8b8d4" stroke="#3d4759" stroke-width="0.9"/><circle cx="366.1" cy="230.1" r="3.25" fill="#a8b8d4" stroke="#3d4759" stroke-width="0.9"/><circle cx="369.6" cy="235.4" r="3.25" fill="#a8b8d4" stroke="#3d4759" stroke-width="0.9"/><circle cx="373.1" cy="236" r="3.25" fill="#a8b8d4" stroke="#3d4759" stroke-width="0.9"/><circle cx="376" cy="233.7" r="3.25" fill="#a8b8d4" stroke="#3d4759" stroke-width="0.9"/><circle cx="378.9" cy="233.1" r="3.25" fill="#a8b8d4" stroke="#3d4759" stroke-width="0.9"/><circle cx="383" cy="229.6" r="3.25" fill="#a8b8d4" stroke="#3d4759" stroke-width="0.9"/><circle cx="386" cy="232.5" r="3.25" fill="#a8b8d4" stroke="#3d4759" stroke-width="0.9"/><circle cx="389.5" cy="231.3" r="3.25" fill="#a8b8d4" stroke="#3d4759" stroke-width="0.9"/><circle cx="391.8" cy="235.4" r="3.25" fill="#a8b8d4" stroke="#3d4759" stroke-width="0.9"/><circle cx="394.7" cy="236" r="3.25" fill="#a8b8d4" stroke="#3d4759" stroke-width="0.9"/><circle cx="397.1" cy="237.2" r="3.25" fill="#a8b8d4" stroke="#3d4759" stroke-width="0.9"/><circle cx="399.5" cy="237.4" r="3.25" fill="#a8b8d4" stroke="#3d4759" stroke-width="0.9"/><circle cx="403.2" cy="235.9" r="3.25" fill="#a8b8d4" stroke="#3d4759" stroke-width="0.9"/><circle cx="406.8" cy="236.7" r="3.25" fill="#a8b8d4" stroke="#3d4759" stroke-width="0.9"/><circle cx="409.7" cy="237.4" r="3.25" fill="#a8b8d4" stroke="#3d4759" stroke-width="0.9"/><circle cx="412.7" cy="233.7" r="3.25" fill="#a8b8d4" stroke="#3d4759" stroke-width="0.9"/><circle cx="415.6" cy="232.3" r="3.25" fill="#a8b8d4" stroke="#3d4759" stroke-width="0.9"/><circle cx="418.5" cy="236.7" r="3.25" fill="#a8b8d4" stroke="#3d4759" stroke-width="0.9"/><circle cx="421.4" cy="230.8" r="3.25" fill="#a8b8d4" stroke="#3d4759" stroke-width="0.9"/></g>
<path d="M346.4 5.8h7.6M350.2 2v7.6" stroke="#cc142c" stroke-width="1.1"/>
<circle cx="350.2" cy="18.7" r="3.3" fill="#f7a44f" stroke="#6e4518" stroke-width="0.9"/>
<circle cx="350.2" cy="31.4" r="3.3" fill="#6d7d94" stroke="#313a46" stroke-width="0.9"/>
<circle cx="350.2" cy="43.9" r="2.6" fill="#a8b8d4" stroke="#3d4759" stroke-width="0.9"/>
<text x="360.96" y="8.8" font-size="9.6" textLength="58.56" lengthAdjust="spacingAndGlyphs">Schizophrenia</text>
<text x="360.4" y="21.6" font-size="9.6" textLength="31.94" lengthAdjust="spacingAndGlyphs">Bipolar</text>
<text x="394.55" y="21.6" font-size="9.6" textLength="35.23" lengthAdjust="spacingAndGlyphs">disorder</text>
<text x="361.2" y="34.4" font-size="9.6" textLength="25.92" lengthAdjust="spacingAndGlyphs">ADHD</text>
<text x="388.69" y="34.4" font-size="9.6" textLength="58.82" lengthAdjust="spacingAndGlyphs">(adolescents)</text>
<text x="361.2" y="47.1" font-size="9.6" textLength="25.92" lengthAdjust="spacingAndGlyphs">ADHD</text>
<text x="388.67" y="47.1" font-size="9.6" textLength="33.86" lengthAdjust="spacingAndGlyphs">(adults)</text>
<text x="4.9" y="35.6" font-size="22" font-weight="bold" fill="#000">a</text>
<text x="92" y="304" font-size="12.6" textLength="52.23" lengthAdjust="spacingAndGlyphs">Variables</text>
<text x="147.43" y="304" font-size="12.6" textLength="48.9" lengthAdjust="spacingAndGlyphs">(ordered</text>
<text x="201.06" y="304" font-size="12.6" textLength="13.05" lengthAdjust="spacingAndGlyphs">by</text>
<text x="217.68" y="304" font-size="12.6" textLength="13.51" lengthAdjust="spacingAndGlyphs">SZ</text>
<text x="233.89" y="304" font-size="12.6" textLength="72.88" lengthAdjust="spacingAndGlyphs">classification</text>
<text x="310.12" y="304" font-size="12.6" textLength="69.26" lengthAdjust="spacingAndGlyphs">importance)</text>
<text transform="rotate(-90)" x="-214.5" y="11.8" font-size="12.6" textLength="47.56" lengthAdjust="spacingAndGlyphs">Variable</text>
<text transform="rotate(-90)" x="-163.59" y="11.8" font-size="12.6" textLength="65.27" lengthAdjust="spacingAndGlyphs">importance</text>
<path d="M519.6 55.8H681.0V261.6" fill="none" stroke="#7a7a7a" stroke-width="1.15"/>
<path d="M681.0 261.6H519.6V55.8" fill="none" stroke="#4a4a4a" stroke-width="1.1"/>
<line x1="513.4" y1="253.2" x2="519.6" y2="253.2" stroke="#555" stroke-width="1"/>
<text x="505.7" y="256" font-size="13.2" text-anchor="end" textLength="7.9" lengthAdjust="spacingAndGlyphs">0</text>
<line x1="513.4" y1="226.04" x2="519.6" y2="226.04" stroke="#555" stroke-width="1"/>
<text x="505.7" y="229.05" font-size="13.2" text-anchor="end" textLength="7.9" lengthAdjust="spacingAndGlyphs">1</text>
<line x1="513.4" y1="198.88" x2="519.6" y2="198.88" stroke="#555" stroke-width="1"/>
<text x="505.7" y="202.1" font-size="13.2" text-anchor="end" textLength="7.9" lengthAdjust="spacingAndGlyphs">2</text>
<line x1="513.4" y1="171.72" x2="519.6" y2="171.72" stroke="#555" stroke-width="1"/>
<text x="505.7" y="175.15" font-size="13.2" text-anchor="end" textLength="7.9" lengthAdjust="spacingAndGlyphs">3</text>
<line x1="513.4" y1="144.56" x2="519.6" y2="144.56" stroke="#555" stroke-width="1"/>
<text x="505.7" y="148.2" font-size="13.2" text-anchor="end" textLength="7.9" lengthAdjust="spacingAndGlyphs">4</text>
<line x1="513.4" y1="117.4" x2="519.6" y2="117.4" stroke="#555" stroke-width="1"/>
<text x="505.7" y="121.25" font-size="13.2" text-anchor="end" textLength="7.9" lengthAdjust="spacingAndGlyphs">5</text>
<line x1="513.4" y1="90.24" x2="519.6" y2="90.24" stroke="#555" stroke-width="1"/>
<text x="505.7" y="94.3" font-size="13.2" text-anchor="end" textLength="7.9" lengthAdjust="spacingAndGlyphs">6</text>
<line x1="513.4" y1="63.08" x2="519.6" y2="63.08" stroke="#555" stroke-width="1"/>
<text x="505.7" y="67.35" font-size="13.2" text-anchor="end" textLength="7.9" lengthAdjust="spacingAndGlyphs">7</text>
<line x1="534.6" y1="261.6" x2="534.6" y2="267" stroke="#555" stroke-width="1"/>
<text transform="translate(539.4 275.3) rotate(-45)" font-size="11" text-anchor="end">Top 14</text>
<line x1="553.33" y1="261.6" x2="553.33" y2="267" stroke="#555" stroke-width="1"/>
<text transform="translate(556.1 275.3) rotate(-45)" font-size="11" text-anchor="end">Rest</text>
<line x1="572.06" y1="261.6" x2="572.06" y2="267" stroke="#555" stroke-width="1"/>
<text transform="translate(580.1 275.3) rotate(-45)" font-size="11" text-anchor="end">Top 14</text>
<line x1="590.79" y1="261.6" x2="590.79" y2="267" stroke="#555" stroke-width="1"/>
<text transform="translate(593.5 275.3) rotate(-45)" font-size="11" text-anchor="end">Rest</text>
<line x1="609.52" y1="261.6" x2="609.52" y2="267" stroke="#555" stroke-width="1"/>
<text transform="translate(616.7 275.3) rotate(-45)" font-size="11" text-anchor="end">Top 14</text>
<line x1="628.25" y1="261.6" x2="628.25" y2="267" stroke="#555" stroke-width="1"/>
<text transform="translate(631.6 275.3) rotate(-45)" font-size="11" text-anchor="end">Rest</text>
<line x1="646.98" y1="261.6" x2="646.98" y2="267" stroke="#555" stroke-width="1"/>
<text transform="translate(655.8 275.3) rotate(-45)" font-size="11" text-anchor="end">Top 14</text>
<line x1="665.71" y1="261.6" x2="665.71" y2="267" stroke="#555" stroke-width="1"/>
<text transform="translate(671.5 275.3) rotate(-45)" font-size="11" text-anchor="end">Rest</text>
<g filter="url(#sf)">
<line x1="534.6" y1="167.0" x2="534.6" y2="184.9" stroke="#222" stroke-width="0.9" stroke-dasharray="2.4 2"/>
<line x1="534.6" y1="201.7" x2="534.6" y2="207.5" stroke="#222" stroke-width="0.9" stroke-dasharray="2.4 2"/>
<line x1="530.8" y1="167.0" x2="538.4" y2="167.0" stroke="#222" stroke-width="1"/>
<line x1="530.8" y1="207.5" x2="538.4" y2="207.5" stroke="#222" stroke-width="1"/>
<rect x="527" y="184.9" width="15.2" height="16.8" fill="#e00000" stroke="#2a2a2a" stroke-width="1"/>
<line x1="527" y1="194.9" x2="542.2" y2="194.9" stroke="#111" stroke-width="2.6"/>
<circle cx="534.6" cy="115.8" r="2.3" fill="none" stroke="#444" stroke-width="1"/>
<circle cx="534.6" cy="131.2" r="2.3" fill="none" stroke="#444" stroke-width="1"/>
<line x1="553.33" y1="197.9" x2="553.33" y2="212.5" stroke="#222" stroke-width="0.9" stroke-dasharray="2.4 2"/>
<line x1="553.33" y1="222.6" x2="553.33" y2="227.6" stroke="#222" stroke-width="0.9" stroke-dasharray="2.4 2"/>
<line x1="549.53" y1="197.9" x2="557.13" y2="197.9" stroke="#222" stroke-width="1"/>
<line x1="549.53" y1="227.6" x2="557.13" y2="227.6" stroke="#222" stroke-width="1"/>
<rect x="545.73" y="212.5" width="15.2" height="10.1" fill="#e00000" stroke="#2a2a2a" stroke-width="1"/>
<line x1="545.73" y1="216.9" x2="560.93" y2="216.9" stroke="#111" stroke-width="2.6"/>
<circle cx="553.33" cy="188.2" r="2.3" fill="none" stroke="#444" stroke-width="1"/>
<circle cx="553.33" cy="192.3" r="2.3" fill="none" stroke="#444" stroke-width="1"/>
<circle cx="553.33" cy="194.8" r="2.3" fill="none" stroke="#444" stroke-width="1"/>
<circle cx="553.33" cy="196.0" r="2.3" fill="none" stroke="#444" stroke-width="1"/>
<line x1="572.06" y1="187.1" x2="572.06" y2="196.4" stroke="#222" stroke-width="0.9" stroke-dasharray="2.4 2"/>
<line x1="572.06" y1="211.0" x2="572.06" y2="216.0" stroke="#222" stroke-width="0.9" stroke-dasharray="2.4 2"/>
<line x1="568.26" y1="187.1" x2="575.86" y2="187.1" stroke="#222" stroke-width="1"/>
<line x1="568.26" y1="216.0" x2="575.86" y2="216.0" stroke="#222" stroke-width="1"/>
<rect x="564.46" y="196.4" width="15.2" height="14.6" fill="#f8a24a" stroke="#2a2a2a" stroke-width="1"/>
<line x1="564.46" y1="202.0" x2="579.66" y2="202.0" stroke="#111" stroke-width="2.6"/>
<circle cx="572.06" cy="166.7" r="2.3" fill="none" stroke="#444" stroke-width="1"/>
<line x1="590.79" y1="187.8" x2="590.79" y2="202.3" stroke="#222" stroke-width="0.9" stroke-dasharray="2.4 2"/>
<line x1="590.79" y1="213.2" x2="590.79" y2="219.2" stroke="#222" stroke-width="0.9" stroke-dasharray="2.4 2"/>
<line x1="586.99" y1="187.8" x2="594.59" y2="187.8" stroke="#222" stroke-width="1"/>
<line x1="586.99" y1="219.2" x2="594.59" y2="219.2" stroke="#222" stroke-width="1"/>
<rect x="583.19" y="202.3" width="15.2" height="10.9" fill="#f8a24a" stroke="#2a2a2a" stroke-width="1"/>
<line x1="583.19" y1="209.6" x2="598.39" y2="209.6" stroke="#111" stroke-width="2.6"/>
<circle cx="590.79" cy="164.6" r="2.3" fill="none" stroke="#444" stroke-width="1"/>
<circle cx="590.79" cy="169.2" r="2.3" fill="none" stroke="#444" stroke-width="1"/>
<circle cx="590.79" cy="173.3" r="2.3" fill="none" stroke="#444" stroke-width="1"/>
<circle cx="590.79" cy="177.4" r="2.3" fill="none" stroke="#444" stroke-width="1"/>
<circle cx="590.79" cy="179.4" r="2.3" fill="none" stroke="#444" stroke-width="1"/>
<circle cx="590.79" cy="181.5" r="2.3" fill="none" stroke="#444" stroke-width="1"/>
<line x1="609.52" y1="231.7" x2="609.52" y2="236.3" stroke="#222" stroke-width="0.9" stroke-dasharray="2.4 2"/>
<line x1="609.52" y1="240.9" x2="609.52" y2="242.4" stroke="#222" stroke-width="0.9" stroke-dasharray="2.4 2"/>
<line x1="605.72" y1="231.7" x2="613.32" y2="231.7" stroke="#222" stroke-width="1"/>
<line x1="605.72" y1="242.4" x2="613.32" y2="242.4" stroke="#222" stroke-width="1"/>
<rect x="601.92" y="236.3" width="15.2" height="4.6" fill="#7d8da3" stroke="#2a2a2a" stroke-width="1"/>
<line x1="601.92" y1="239.0" x2="617.12" y2="239.0" stroke="#111" stroke-width="2.6"/>
<circle cx="609.52" cy="225.7" r="2.3" fill="none" stroke="#444" stroke-width="1"/>
<line x1="628.25" y1="227.1" x2="628.25" y2="234.2" stroke="#222" stroke-width="0.9" stroke-dasharray="2.4 2"/>
<line x1="628.25" y1="239.7" x2="628.25" y2="242.2" stroke="#222" stroke-width="0.9" stroke-dasharray="2.4 2"/>
<line x1="624.45" y1="227.1" x2="632.05" y2="227.1" stroke="#222" stroke-width="1"/>
<line x1="624.45" y1="242.2" x2="632.05" y2="242.2" stroke="#222" stroke-width="1"/>
<rect x="620.65" y="234.2" width="15.2" height="5.5" fill="#7d8da3" stroke="#2a2a2a" stroke-width="1"/>
<line x1="620.65" y1="237.3" x2="635.85" y2="237.3" stroke="#111" stroke-width="2.6"/>
<circle cx="628.25" cy="154.0" r="2.3" fill="none" stroke="#444" stroke-width="1"/>
<circle cx="628.25" cy="204.7" r="2.3" fill="none" stroke="#444" stroke-width="1"/>
<circle cx="628.25" cy="213.6" r="2.3" fill="none" stroke="#444" stroke-width="1"/>
<circle cx="628.25" cy="215.8" r="2.3" fill="none" stroke="#444" stroke-width="1"/>
<circle cx="628.25" cy="218.0" r="2.3" fill="none" stroke="#444" stroke-width="1"/>
<circle cx="628.25" cy="221.9" r="2.3" fill="none" stroke="#444" stroke-width="1"/>
<circle cx="628.25" cy="224.7" r="2.3" fill="none" stroke="#444" stroke-width="1"/>
<line x1="646.98" y1="207.4" x2="646.98" y2="208.2" stroke="#222" stroke-width="0.9" stroke-dasharray="2.4 2"/>
<line x1="646.98" y1="223.4" x2="646.98" y2="224.2" stroke="#222" stroke-width="0.9" stroke-dasharray="2.4 2"/>
<line x1="643.18" y1="207.4" x2="650.78" y2="207.4" stroke="#222" stroke-width="1"/>
<line x1="643.18" y1="224.2" x2="650.78" y2="224.2" stroke="#222" stroke-width="1"/>
<rect x="639.38" y="208.2" width="15.2" height="15.2" fill="#7d8da3" stroke="#2a2a2a" stroke-width="1"/>
<line x1="639.38" y1="218.1" x2="654.58" y2="218.1" stroke="#111" stroke-width="2.6"/>
<circle cx="646.98" cy="178.7" r="2.3" fill="none" stroke="#444" stroke-width="1"/>
<circle cx="646.98" cy="184.9" r="2.3" fill="none" stroke="#444" stroke-width="1"/>
<line x1="665.71" y1="206.2" x2="665.71" y2="216.6" stroke="#222" stroke-width="0.9" stroke-dasharray="2.4 2"/>
<line x1="665.71" y1="225.7" x2="665.71" y2="234.8" stroke="#222" stroke-width="0.9" stroke-dasharray="2.4 2"/>
<line x1="661.91" y1="206.2" x2="669.51" y2="206.2" stroke="#222" stroke-width="1"/>
<line x1="661.91" y1="234.8" x2="669.51" y2="234.8" stroke="#222" stroke-width="1"/>
<rect x="658.11" y="216.6" width="15.2" height="9.1" fill="#7d8da3" stroke="#2a2a2a" stroke-width="1"/>
<line x1="658.11" y1="222.0" x2="673.31" y2="222.0" stroke="#111" stroke-width="2.6"/>
<circle cx="665.71" cy="173.8" r="2.3" fill="none" stroke="#444" stroke-width="1"/>
<circle cx="665.71" cy="176.0" r="2.3" fill="none" stroke="#444" stroke-width="1"/>
<circle cx="665.71" cy="180.2" r="2.3" fill="none" stroke="#444" stroke-width="1"/>
<circle cx="665.71" cy="191.2" r="2.3" fill="none" stroke="#444" stroke-width="1"/>
<circle cx="665.71" cy="194.4" r="2.3" fill="none" stroke="#444" stroke-width="1"/>
<circle cx="665.71" cy="197.0" r="2.3" fill="none" stroke="#444" stroke-width="1"/>
<circle cx="665.71" cy="199.5" r="2.3" fill="none" stroke="#444" stroke-width="1"/>
<circle cx="665.71" cy="202.1" r="2.3" fill="none" stroke="#444" stroke-width="1"/>
</g>
<line x1="569.1" y1="125.6" x2="592.2" y2="125.6" stroke="#000" stroke-width="2"/>
<line x1="645.3" y1="125.1" x2="668.6" y2="125.1" stroke="#000" stroke-width="2"/>
<path d="M581.7 113.8L581.7 121.2M578.5 115.65L584.9 119.35M584.9 115.65L578.5 119.35" stroke="#000" stroke-width="1.35"/>
<path d="M657.2 113.6L657.2 121M654 115.45L660.4 119.15M660.4 115.45L654 119.15" stroke="#000" stroke-width="1.35"/>
<rect x="579.7" y="4.4" width="10.8" height="4.2" fill="#c00000" stroke="#333" stroke-width="1"/>
<rect x="579.7" y="16.6" width="10.8" height="4.5" fill="#ffc000" stroke="#333" stroke-width="1"/>
<rect x="579.7" y="29.4" width="10.8" height="4.5" fill="#808080" stroke="#333" stroke-width="1"/>
<rect x="579.7" y="42.2" width="10.8" height="4.4" fill="#e6e6e6" stroke="#333" stroke-width="1"/>
<text x="596.96" y="8.8" font-size="9.6" textLength="58.56" lengthAdjust="spacingAndGlyphs">Schizophrenia</text>
<text x="596.4" y="21.6" font-size="9.6" textLength="31.94" lengthAdjust="spacingAndGlyphs">Bipolar</text>
<text x="630.55" y="21.6" font-size="9.6" textLength="35.23" lengthAdjust="spacingAndGlyphs">disorder</text>
<text x="597.2" y="34.4" font-size="9.6" textLength="25.92" lengthAdjust="spacingAndGlyphs">ADHD</text>
<text x="624.69" y="34.4" font-size="9.6" textLength="58.82" lengthAdjust="spacingAndGlyphs">(adolescents)</text>
<text x="597.2" y="47.1" font-size="9.6" textLength="25.92" lengthAdjust="spacingAndGlyphs">ADHD</text>
<text x="624.67" y="47.1" font-size="9.6" textLength="33.86" lengthAdjust="spacingAndGlyphs">(adults)</text>
<text x="470.8" y="37" font-size="22" font-weight="bold" fill="#000">b</text>
<text transform="rotate(-90)" x="-214.5" y="480.1" font-size="12.6" textLength="47.56" lengthAdjust="spacingAndGlyphs">Variable</text>
<text transform="rotate(-90)" x="-163.59" y="480.1" font-size="12.6" textLength="65.27" lengthAdjust="spacingAndGlyphs">importance</text>
<text x="519.7" y="320.8" font-size="12.2" textLength="51.82" lengthAdjust="spacingAndGlyphs">Variables</text>
<text x="574.91" y="320.8" font-size="12.2" textLength="48.39" lengthAdjust="spacingAndGlyphs">(ordered</text>
<text x="627.71" y="320.8" font-size="12.2" textLength="13.56" lengthAdjust="spacingAndGlyphs">by</text>
<text x="644.47" y="320.8" font-size="12.2" textLength="13.52" lengthAdjust="spacingAndGlyphs">SZ</text>
<text x="517.38" y="337.5" font-size="12.2" textLength="71.84" lengthAdjust="spacingAndGlyphs">classification</text>
<text x="592.37" y="337.5" font-size="12.2" textLength="71.31" lengthAdjust="spacingAndGlyphs">importance)</text>
</svg>
</body></html>
